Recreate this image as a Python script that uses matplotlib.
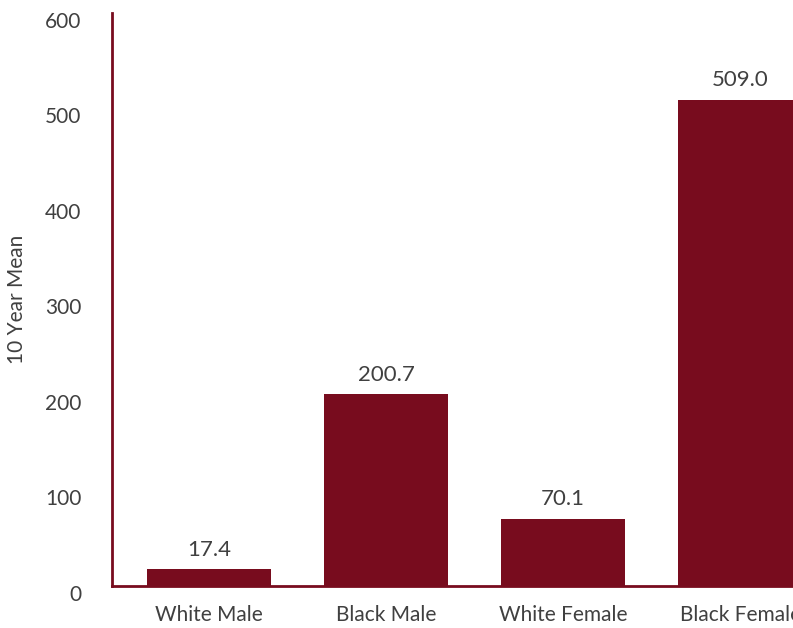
import matplotlib.pyplot as plt
import matplotlib.transforms as mtransforms

groups = ["White Male", "Black Male", "White Female", "Black Female"]
means = [17.4, 200.7, 70.1, 509.0]

maroon = "#780c1e"
txt = "#404040"
plt.rcParams['font.family'] = ['Lato', 'DejaVu Sans']

fig = plt.figure(figsize=(7.93, 6.28), dpi=100)
ax = fig.add_axes([0.1412, 0.0669, 0.9105, 0.9124])

x = list(range(len(groups)))
bars = ax.bar(x, means, width=0.7, color=maroon)
for b, v in zip(bars, means):
    ax.annotate(f"{v:.1f}", (b.get_x() + b.get_width() / 2, v),
                xytext=(0, 7), textcoords="offset points",
                ha="center", va="bottom", fontsize=16, color=txt)

ax.set_xlim(-0.55, 3.53)
ax.set_ylim(0, 600)
ax.set_yticks([0, 100, 200, 300, 400, 500, 600])
ax.set_xticks(x)
ax.set_xticklabels(groups)
ax.tick_params(axis="both", length=0, labelsize=15, colors=txt)
ax.tick_params(axis="y", pad=22)
ax.tick_params(axis="x", pad=14)
for lab in ax.get_yticklabels():
    lab.set_transform(lab.get_transform() + mtransforms.ScaledTranslation(0, -7 / 100, fig.dpi_scale_trans))

ax.set_ylabel("10 Year Mean", fontsize=15, color=txt)
ax.yaxis.set_label_coords(-0.118, 0.5)

for s in ["top", "right"]:
    ax.spines[s].set_visible(False)
for s in ["left", "bottom"]:
    ax.spines[s].set_color(maroon)
    ax.spines[s].set_linewidth(2)

fig.savefig("out.png", dpi=100)
